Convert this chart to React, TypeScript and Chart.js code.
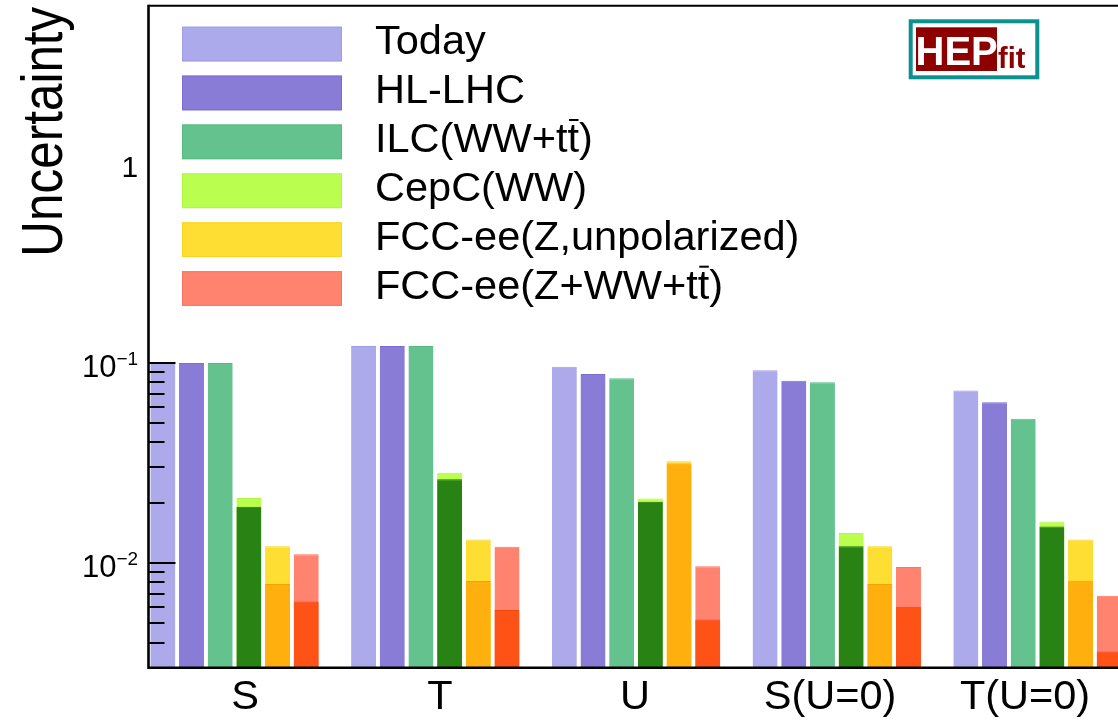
import { useEffect, useRef } from 'react';
import { Chart, registerables } from 'chart.js';

Chart.register(...registerables);

// ---------------- data ----------------
const categories = ['S', 'T', 'U', 'S(U=0)', 'T(U=0)'];

const today = [0.1, 0.121, 0.0955, 0.0916, 0.0725];
const hlLhc = [0.0995, 0.121, 0.0877, 0.0813, 0.0634];
const ilc = [0.0995, 0.121, 0.0835, 0.0798, 0.0524];
const cepc = [0.0211, 0.0282, 0.021, 0.0141, 0.0161];
const cepcInner = [0.0191, 0.0262, 0.0202, 0.0121, 0.0152];
const fccZ = [0.0121, 0.0131, 0.0322, 0.0121, 0.0131];
const fccZInner = [0.00786, 0.00813, 0.0314, 0.00786, 0.00816];
const fccAll = [0.01105, 0.01206, 0.00963, 0.00955, 0.00685];
const fccAllInner = [0.00642, 0.00583, 0.00522, 0.00604, 0.00361];

const legendLabels = [
  'Today',
  'HL-LHC',
  'ILC(WW+tt)',
  'CepC(WW)',
  'FCC-ee(Z,unpolarized)',
  'FCC-ee(Z+WW+tt)',
];
const overbarLabels = [2, 5]; // labels whose last "t" carries a bar (t-bar)

const yTickValues = [1, 0.1, 0.01];
const yTitle = 'Uncertainty';

// ---------------- styles ----------------
const FONT = '"Liberation Sans", Arial, Helvetica, sans-serif';
const outerColors = ['#acaaea', '#897cd6', '#64c28e', '#bafe50', '#ffde34', '#ff836e'];
const outerStroke = ['#9e9ce6', '#7b6ed2', '#55bb80', '#b0f840', '#fbd41e', '#fb7560'];
const innerColors = ['#288214', '#ffaf0e', '#ff5216'];
const innerStroke = ['#1f7010', '#f5a300', '#f24510'];

const datasets: any[] = [
  { label: legendLabels[0], data: today, backgroundColor: outerColors[0], borderColor: outerStroke[0], stack: 's0' },
  { label: legendLabels[1], data: hlLhc, backgroundColor: outerColors[1], borderColor: outerStroke[1], stack: 's1' },
  { label: legendLabels[2], data: ilc, backgroundColor: outerColors[2], borderColor: outerStroke[2], stack: 's2' },
  { label: 'inner3', data: cepcInner, backgroundColor: innerColors[0], borderColor: innerStroke[0], stack: 's3' },
  { label: legendLabels[3], data: cepc, backgroundColor: outerColors[3], borderColor: outerStroke[3], stack: 's3' },
  { label: 'inner4', data: fccZInner, backgroundColor: innerColors[1], borderColor: innerStroke[1], stack: 's4' },
  { label: legendLabels[4], data: fccZ, backgroundColor: outerColors[4], borderColor: outerStroke[4], stack: 's4' },
  { label: 'inner5', data: fccAllInner, backgroundColor: innerColors[2], borderColor: innerStroke[2], stack: 's5' },
  { label: legendLabels[5], data: fccAll, backgroundColor: outerColors[5], borderColor: outerStroke[5], stack: 's5' },
  { label: 'gap', data: categories.map(() => null), backgroundColor: 'rgba(0,0,0,0)', stack: 's6' },
];

const overlayPlugin = {
  id: 'rootOverlay',
  afterDatasetsDraw(chart: any) {
    const { ctx, chartArea: ca } = chart;
    const y = chart.scales.y;
    ctx.save();

    // minor / major ticks drawn inside the frame
    ctx.strokeStyle = '#000';
    ctx.lineWidth = 2;
    for (let k = -3; k <= 0; k++) {
      for (let m = 1; m <= 9; m++) {
        const v = m * Math.pow(10, k);
        if (v < y.min || v > y.max) continue;
        const py = Math.round(y.getPixelForValue(v));
        if (py > ca.bottom - 3) continue;
        const len = m === 1 ? 27 : 16;
        ctx.beginPath();
        ctx.moveTo(ca.left, py);
        ctx.lineTo(ca.left + len, py);
        ctx.stroke();
      }
    }

    // legend (white box over the frame)
    ctx.fillStyle = '#fff';
    ctx.fillRect(ca.left, ca.top, 720, 322);
    ctx.font = `41.5px ${FONT}`;
    ctx.textAlign = 'left';
    ctx.textBaseline = 'alphabetic';
    for (let i = 0; i < legendLabels.length; i++) {
      const bx = ca.left + 33.5;
      const by = ca.top + 21 + i * 48.9;
      ctx.fillStyle = outerColors[i];
      ctx.fillRect(bx, by, 160, 34.7);
      ctx.strokeStyle = outerStroke[i];
      ctx.lineWidth = 1;
      ctx.strokeRect(bx + 0.5, by + 0.5, 159, 33.7);
      const tx = ca.left + 226.5;
      const ty = by + 27.5;
      const label = legendLabels[i];
      ctx.fillStyle = '#000';
      ctx.fillText(label, tx, ty);
      if (overbarLabels.includes(i)) {
        const idx = label.lastIndexOf('t');
        const x0 = tx + ctx.measureText(label.slice(0, idx)).width;
        const tw = ctx.measureText('t').width;
        ctx.fillRect(x0 + 1.5, ty - 33, tw - 2, 2);
      }
    }

    // frame
    ctx.strokeStyle = '#000';
    ctx.lineWidth = 2;
    ctx.beginPath();
    ctx.moveTo(ca.left, ca.top);
    ctx.lineTo(ca.right, ca.top);
    ctx.stroke();
    ctx.lineWidth = 2.6;
    ctx.beginPath();
    ctx.moveTo(ca.left, ca.top - 1);
    ctx.lineTo(ca.left, ca.bottom);
    ctx.lineTo(ca.right, ca.bottom);
    ctx.stroke();

    // y tick labels with superscripts
    ctx.fillStyle = '#000';
    const rightInk = ca.left - 11;
    for (const v of yTickValues) {
      const py = y.getPixelForValue(v);
      const base = py + 14.5;
      if (v === 1) {
        ctx.font = `30px ${FONT}`;
        const m = ctx.measureText('1');
        ctx.fillText('1', rightInk - m.actualBoundingBoxRight, base);
      } else {
        const exp = Math.round(Math.log10(v));
        const sup = (exp < 0 ? '\u2212' : '') + Math.abs(exp);
        ctx.font = `31px ${FONT}`;
        const mw = ctx.measureText('10').width;
        ctx.font = `19px ${FONT}`;
        const sm = ctx.measureText(sup);
        const x0 = rightInk - (mw + sm.actualBoundingBoxRight);
        ctx.font = `31px ${FONT}`;
        ctx.fillText('10', x0, base);
        ctx.font = `19px ${FONT}`;
        ctx.fillText(sup, x0 + mw, base - 12.5);
      }
    }

    // y title
    ctx.save();
    ctx.translate(61.5, ca.top + 1);
    ctx.rotate(-Math.PI / 2);
    ctx.scale(0.852, 1);
    ctx.font = `58px ${FONT}`;
    ctx.textAlign = 'right';
    ctx.fillStyle = '#000';
    ctx.fillText(yTitle, 0, 0);
    ctx.restore();

    // HEPfit logo
    ctx.fillStyle = '#fff';
    ctx.fillRect(910.7, 21.3, 126.6, 56);
    ctx.strokeStyle = '#0b9190';
    ctx.lineWidth = 4;
    ctx.strokeRect(910.7, 21.3, 126.6, 56);
    ctx.fillStyle = '#8c0000';
    ctx.fillRect(916, 27.3, 81, 43.7);
    ctx.font = `bold 40px ${FONT}`;
    ctx.fillStyle = '#fff';
    ctx.textAlign = 'left';
    ctx.fillText('HEP', 915.5, 64.5);
    ctx.font = `bold 29px ${FONT}`;
    ctx.fillStyle = '#8c0000';
    ctx.fillText('fit', 998, 68.3);

    ctx.restore();
  },
};

export default function App() {
  const ref = useRef<HTMLCanvasElement>(null);

  useEffect(() => {
    const canvas = ref.current;
    if (!canvas) return;
    const chart = new Chart(canvas, {
      type: 'bar',
      data: { labels: categories, datasets },
      options: {
        responsive: false,
        animation: false,
        events: [],
        layout: { padding: { left: 148.5, right: 7.75, top: 5.7, bottom: 3.3 } },
        plugins: { legend: { display: false }, tooltip: { enabled: false } },
        datasets: {
          bar: {
            categoryPercentage: 1,
            barPercentage: 0.872,
            borderWidth: { top: 1, left: 0, right: 0, bottom: 0 },
          },
        },
        scales: {
          x: { type: 'category', display: false, offset: true },
          xl: {
            type: 'linear',
            position: 'bottom',
            offset: false,
            bounds: 'data',
            min: -0.495,
            max: 4.6525,
            afterBuildTicks: (s: any) => {
              s.ticks = categories.map((_, i) => ({ value: i }));
            },
            ticks: {
              autoSkip: false,
              maxRotation: 0,
              minRotation: 0,
              padding: 4.6,
              color: '#000',
              font: { family: FONT, size: 41.5 },
              callback: (v: any) => categories[v as number] ?? '',
            },
            grid: { display: false, drawTicks: false, offset: false },
            border: { display: false },
          },
          y: { type: 'logarithmic', display: false, min: 0.003, max: 6.05, stacked: false },
        },
      } as any,
      plugins: [overlayPlugin],
    });
    return () => chart.destroy();
  }, []);

  return (
    <div
      style={{
        position: 'fixed',
        left: 0,
        top: 0,
        width: 1118,
        height: 725,
        overflow: 'hidden',
        background: '#fff',
      }}
    >
      <canvas ref={ref} width={1160} height={730} style={{ display: 'block', width: 1160, height: 730 }} />
    </div>
  );
}
